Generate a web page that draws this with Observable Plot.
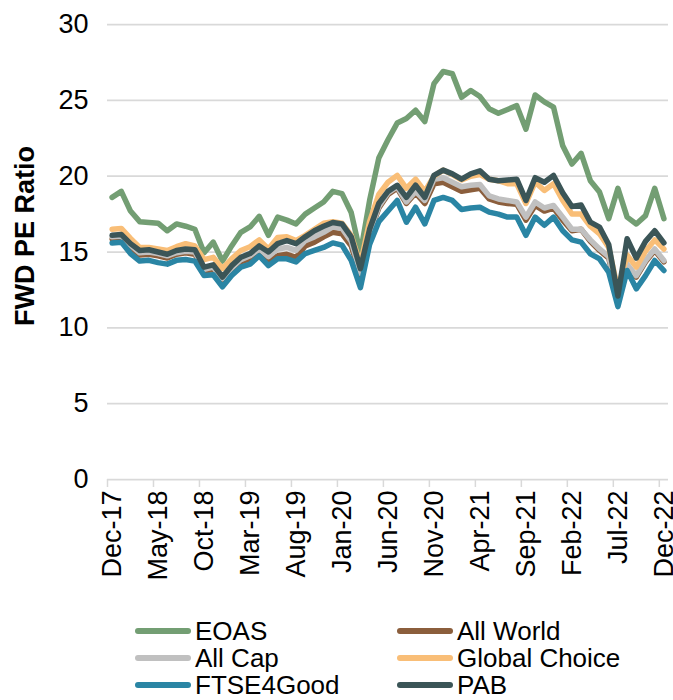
<!DOCTYPE html>
<html><head><meta charset="utf-8">
<script src="https://cdn.jsdelivr.net/npm/d3@7"></script>
<script src="https://cdn.jsdelivr.net/npm/@observablehq/plot@0.6"></script>
<style>
body{margin:0;background:#fff;font-family:"Liberation Sans",Arial,sans-serif;}
#wrap{position:relative;width:673px;height:700px;overflow:hidden;}
#wrap svg{display:block;}
.leg{position:absolute;font-size:26px;line-height:27px;color:#000;white-space:nowrap;display:flex;align-items:center;}
.sw{display:inline-block;width:56px;height:6px;border-radius:3px;margin-right:4px;}
</style></head><body><div id="wrap"></div>
<script>
// Monthly observations Dec-17 .. Dec-22 (61 months), index 0..60
const tickLabels = ["Dec-17","May-18","Oct-18","Mar-19","Aug-19","Jan-20","Jun-20","Nov-20","Apr-21","Sep-21","Feb-22","Jul-22","Dec-22"];
const seriesNames = ["EOAS","All World","All Cap","Global Choice","FTSE4Good","PAB"];
const seriesColors = ["#739e73","#8b5e3c","#c0c0c0","#f9be77","#2a85a4","#3b5557"];

const eoas = [18.6,19.0,17.7,17.0,16.95,16.9,16.4,16.85,16.7,16.5,14.95,15.65,14.4,15.4,16.3,16.65,17.35,16.1,17.3,17.1,16.85,17.5,17.9,18.3,19.0,18.85,17.6,14.9,18.4,21.2,22.4,23.5,23.8,24.35,23.6,26.1,26.9,26.75,25.2,25.65,25.25,24.45,24.15,24.4,24.65,23.1,25.35,24.9,24.55,22.0,20.8,21.5,19.7,18.95,17.2,19.2,17.3,16.85,17.4,19.2,17.2];
const allWorld = [15.85,15.9,15.3,14.8,14.85,14.75,14.6,14.85,14.95,14.85,13.75,13.85,13.15,13.8,14.35,14.55,15.0,14.4,14.75,14.85,14.65,15.4,15.65,16.0,16.3,16.2,15.4,13.5,16.2,17.9,18.8,19.2,18.2,18.9,18.2,19.5,19.6,19.3,19.0,19.1,19.2,18.5,18.3,18.2,18.15,17.1,18.07,17.7,17.9,17.1,16.4,16.5,15.7,15.1,14.6,12.1,14.1,13.35,14.35,15.1,14.35];
const allCap = [16.0,16.05,15.45,14.95,15.0,14.9,14.75,14.95,15.05,15.0,13.85,14.0,13.25,13.95,14.5,14.75,15.2,14.7,15.2,15.3,15.1,15.75,16.0,16.3,16.65,16.55,15.7,13.6,16.3,18.0,18.9,19.3,18.3,19.0,18.4,19.8,19.9,19.6,19.3,19.4,19.45,18.7,18.5,18.4,18.3,17.3,18.3,17.9,18.07,17.3,16.5,16.5,15.8,15.2,14.7,12.2,14.2,13.44,14.44,15.2,14.44];
const globalChoice = [16.5,16.55,15.9,15.3,15.3,15.2,15.1,15.35,15.55,15.4,14.5,14.65,13.9,14.55,15.1,15.35,15.8,15.2,15.95,16.0,15.75,16.1,16.5,16.9,17.0,16.9,16.1,14.2,17.0,18.8,19.6,20.05,19.2,19.8,19.0,20.0,20.4,20.1,19.75,20.0,20.1,19.8,19.7,19.5,19.5,18.2,19.6,19.06,19.5,18.4,17.5,17.5,16.7,16.2,15.3,12.5,14.8,14.0,15.05,15.8,15.2];
const ftse4good = [15.6,15.65,14.9,14.4,14.45,14.3,14.2,14.45,14.5,14.4,13.45,13.5,12.7,13.45,14.0,14.2,14.75,14.1,14.55,14.55,14.35,14.9,15.1,15.3,15.6,15.45,14.45,12.65,15.5,17.0,17.7,18.4,16.96,17.95,16.85,18.4,18.6,18.4,17.8,17.9,17.95,17.63,17.5,17.3,17.3,16.1,17.3,16.76,17.3,16.4,15.8,15.65,14.88,14.55,13.67,11.4,13.78,12.57,13.44,14.44,13.78];
const pab = [16.1,16.15,15.55,15.1,15.15,15.0,14.85,15.1,15.2,15.15,14.0,14.15,13.35,14.1,14.65,14.9,15.4,15.0,15.55,15.75,15.55,16.0,16.4,16.7,16.95,16.85,16.0,13.9,16.5,18.2,19.0,19.4,18.6,19.4,18.6,20.05,20.4,20.15,19.8,20.15,20.35,19.8,19.7,19.75,19.8,18.4,19.9,19.6,20.05,18.9,18.0,18.1,16.97,16.64,15.5,12.1,15.87,14.6,15.7,16.4,15.6];
const yTicks = [0,5,10,15,20,25,30];
const yLabel = "FWD PE Ratio";

const seriesValues = [eoas, allWorld, allCap, globalChoice, ftse4good, pab];
const table = [];
seriesValues.forEach((vals, s) => vals.forEach((v, i) => table.push({series: seriesNames[s], i, v})));
const tickMarks = tickLabels.map((_, k) => k * 5 - 0.5);
const labelPos = tickLabels.map((_, k) => k * 5);

const chart = Plot.plot({
  width: 673, height: 617,
  marginLeft: 107, marginRight: 5, marginTop: 24, marginBottom: 138,
  style: {fontFamily: "'Liberation Sans', Arial, sans-serif", background: "#fff", overflow: "visible"},
  x: {type: "linear", domain: [-0.5, 60.5]},
  y: {domain: [0, 30]},
  color: {domain: seriesNames, range: seriesColors},
  marks: [
    Plot.gridY({ticks: yTicks.filter(d => d > 0), stroke: "#d9d9d9", strokeOpacity: 1, strokeWidth: 1.75}),
    Plot.ruleY([0], {stroke: "#d9d9d9", strokeWidth: 1.75}),
    Plot.axisY({ticks: yTicks, tickSize: 0, tickPadding: 19, fontSize: 27, label: null}),
    Plot.axisX({ticks: tickMarks, tickSize: 8, tickFormat: () => "", stroke: "#d9d9d9", strokeWidth: 1.5, strokeOpacity: 1, label: null}),
    Plot.axisX({ticks: labelPos, tickSize: 0, tickPadding: 11, tickRotate: -90, fontSize: 27, tickFormat: d => tickLabels[Math.round(d / 5)], label: null}),
    Plot.text([yLabel], {frameAnchor: "left", textAnchor: "middle", dx: -82, dy: -16, rotate: -90, fontWeight: "bold", fontSize: 27, text: d => d, fill: "#000"}),
    Plot.line(table, {x: "i", y: "v", z: "series", stroke: "series", strokeWidth: 5.5, strokeLinejoin: "round", strokeLinecap: "round"})
  ]
});
const wrap = document.getElementById("wrap");
wrap.appendChild(chart);

const legendPos = [[135,631],[397,631],[135,658],[397,658],[135,685],[397,685]];
seriesNames.forEach((name, s) => {
  const d = document.createElement("div");
  d.className = "leg";
  d.style.left = legendPos[s][0] + "px";
  d.style.top = (legendPos[s][1] - 13.5) + "px";
  const sw = document.createElement("span");
  sw.className = "sw";
  sw.style.background = seriesColors[s];
  d.appendChild(sw);
  d.appendChild(document.createTextNode(name));
  wrap.appendChild(d);
});
</script></body></html>
